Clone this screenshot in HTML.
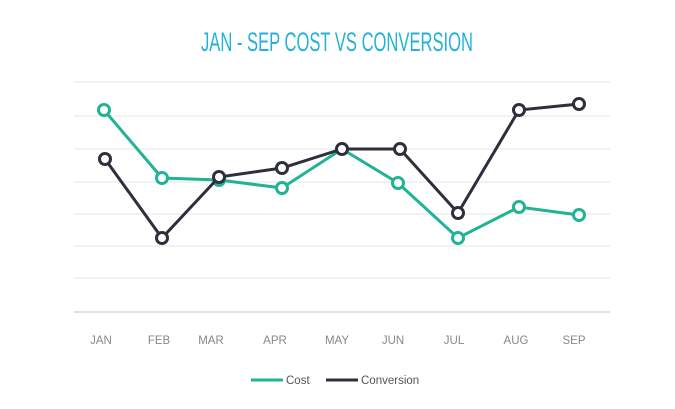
<!DOCTYPE html>
<html><head><style>
body{margin:0;background:#fff;width:675px;height:404px;overflow:hidden}
</style></head><body>
<svg width="675" height="404" xmlns="http://www.w3.org/2000/svg" font-family="Liberation Sans, sans-serif">
<text x="337" y="51" text-anchor="middle" font-size="27" fill="#22b2d9" textLength="272" lengthAdjust="spacingAndGlyphs">JAN - SEP COST VS CONVERSION</text>
<g stroke="#eeeeee" stroke-width="1.5">
<line x1="74" x2="610" y1="82" y2="82"/><line x1="74" x2="610" y1="116" y2="116"/>
<line x1="74" x2="610" y1="149" y2="149"/><line x1="74" x2="610" y1="182" y2="182"/>
<line x1="74" x2="610" y1="214" y2="214"/><line x1="74" x2="610" y1="246" y2="246"/>
<line x1="74" x2="610" y1="278" y2="278"/>
</g>
<line x1="74" x2="610" y1="312" y2="312" stroke="#e2e2e2" stroke-width="2"/>
<g font-size="11.5" fill="#888" text-anchor="middle">
<text x="101" y="344">JAN</text><text x="159" y="344">FEB</text><text x="211" y="344">MAR</text>
<text x="275" y="344">APR</text><text x="337" y="344">MAY</text><text x="393" y="344">JUN</text>
<text x="454" y="344">JUL</text><text x="516" y="344">AUG</text><text x="574" y="344">SEP</text>
</g>
<polyline fill="none" stroke="#21b396" stroke-width="3" points="104,110 162,178 219,180 282,188 342,149 398,183 458,238 519,207 579,215"/>
<g fill="#fff" stroke="#21b396" stroke-width="3">
<circle cx="104" cy="110" r="5.5"/><circle cx="162" cy="178" r="5.5"/><circle cx="219" cy="180" r="5.5"/>
<circle cx="282" cy="188" r="5.5"/><circle cx="398" cy="183" r="5.5"/>
<circle cx="458" cy="238" r="5.5"/><circle cx="519" cy="207" r="5.5"/><circle cx="579" cy="215" r="5.5"/>
</g>
<polyline fill="none" stroke="#2d2f3c" stroke-width="3" points="105,159 162,238 219,177 282,168 342,149 400,149 458,213 519,110 579,104"/>
<g fill="#fff" stroke="#2d2f3c" stroke-width="3">
<circle cx="105" cy="159" r="5.5"/><circle cx="162" cy="238" r="5.5"/><circle cx="219" cy="177" r="5.5"/>
<circle cx="282" cy="168" r="5.5"/><circle cx="342" cy="149" r="5.5"/><circle cx="400" cy="149" r="5.5"/>
<circle cx="458" cy="213" r="5.5"/><circle cx="519" cy="110" r="5.5"/><circle cx="579" cy="104" r="5.5"/>
</g>
<line x1="251" x2="283" y1="380" y2="380" stroke="#21b396" stroke-width="3"/>
<text x="286" y="384" font-size="11.5" fill="#555">Cost</text>
<line x1="326" x2="358" y1="380" y2="380" stroke="#2d2f3c" stroke-width="3"/>
<text x="361" y="384" font-size="11.5" fill="#555">Conversion</text>
</svg>
</body></html>
